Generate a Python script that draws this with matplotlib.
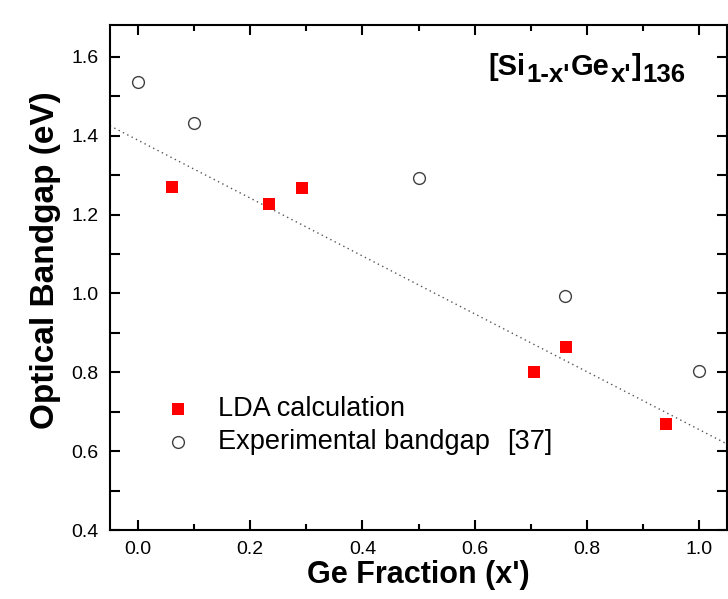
import matplotlib
matplotlib.use("Agg")
import matplotlib.pyplot as plt
from matplotlib.ticker import MultipleLocator
from matplotlib.transforms import offset_copy

plt.rcParams['font.family'] = ['Liberation Sans', 'DejaVu Sans']

# LDA 계산값
lda_x = [0.061, 0.234, 0.292, 0.706, 0.763, 0.941]
lda_y = [1.270, 1.227, 1.268, 0.801, 0.864, 0.669]

# 실험값 [37]
exp_x = [0.0, 0.10, 0.50, 0.761, 1.0]
exp_y = [1.537, 1.431, 1.292, 0.993, 0.804]

# 점선 (추세선 양 끝)
fit_x = [-0.05, 1.05]
fit_y = [1.425, 0.618]

# 제목 조각들 (글자, 크기, 아래첨자 여부)
title_parts = [("[Si", 21, False), ("1-x'", 18.5, True), ("Ge", 21, False),
               ("x'", 18.5, True), ("]", 21, False), ("136", 18.5, True)]

fig = plt.figure(figsize=(7.28, 5.99), dpi=100)
ax = fig.add_axes([0.151, 0.115, 0.848, 0.843])

ax.plot(fit_x, fit_y, linestyle=(0, (1, 2.5)), color='#555555', lw=1.0, zorder=1)
ax.plot(lda_x, lda_y, 's', color='red', markersize=8.3, markeredgewidth=0, zorder=3)
ax.plot(exp_x, exp_y, 'o', markerfacecolor='white', markeredgecolor='#404040',
        markersize=8.5, markeredgewidth=1.0, zorder=3)

ax.set_xlim(-0.05, 1.05)
ax.set_ylim(0.4, 1.68)
ax.xaxis.set_major_locator(MultipleLocator(0.2))
ax.xaxis.set_minor_locator(MultipleLocator(0.1))
ax.yaxis.set_major_locator(MultipleLocator(0.2))
ax.yaxis.set_minor_locator(MultipleLocator(0.1))
ax.xaxis.set_major_formatter(plt.FormatStrFormatter('%.1f'))
ax.yaxis.set_major_formatter(plt.FormatStrFormatter('%.1f'))

ax.tick_params(which='both', direction='in', top=True, right=True, width=1.5)
ax.tick_params(which='major', length=7.5, labelsize=14, pad=8)
ax.tick_params(axis='x', which='minor', length=4)
ax.tick_params(axis='y', which='minor', length=7.5)
for s in ax.spines.values():
    s.set_linewidth(1.5)

ax.set_xlabel("Ge Fraction (x')", fontsize=22, fontweight='bold', labelpad=1)
ax.set_ylabel("Optical Bandgap (eV)", fontsize=24, fontweight='bold')
ax.yaxis.set_label_coords(-0.08, 0.535)

# 제목: 조각별로 이어 붙이기
renderer = fig.canvas.get_renderer()
cur = 0.0
for txt, size, sub in title_parts:
    dy = -7 if sub else 0
    tr = offset_copy(ax.transAxes, fig=fig, x=cur, y=dy, units='dots')
    t = ax.text(0.6126, 0.901, txt, fontsize=size, fontweight='bold',
                ha='left', va='baseline', transform=tr)
    cur += t.get_window_extent(renderer).width + 1

# 범례
ax.plot([0.071], [0.707], 's', color='red', markersize=8.3, markeredgewidth=0)
ax.plot([0.071], [0.623], 'o', markerfacecolor='white', markeredgecolor='#404040',
        markersize=8.5, markeredgewidth=1.0)
ax.text(0.143, 0.707, "LDA calculation", fontsize=19.5, va='center')
ax.text(0.143, 0.623, "Experimental bandgap", fontsize=19.5, va='center')
ax.text(0.658, 0.623, "[37]", fontsize=19.5, va='center')

fig.savefig("out.png", dpi=100, facecolor='white')
